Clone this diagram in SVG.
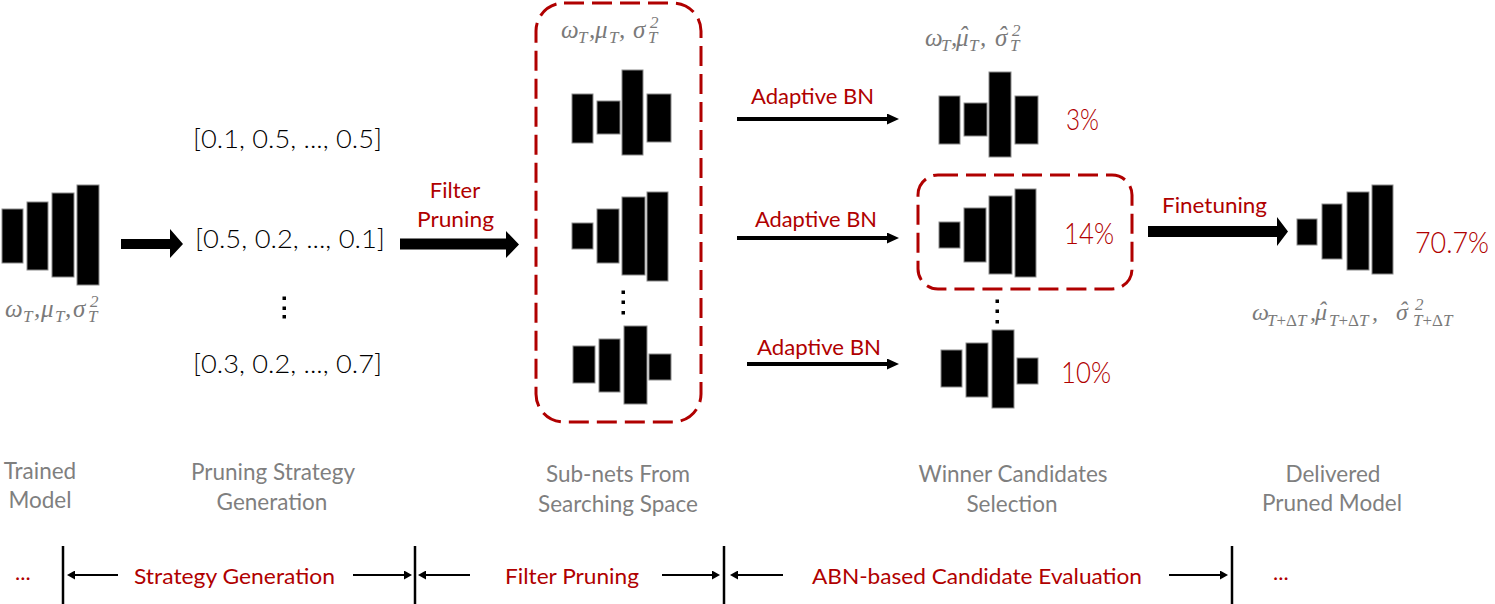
<svg xmlns="http://www.w3.org/2000/svg" width="1495" height="604" viewBox="0 0 1495 604">
<defs>
<style>
.bar{fill:#000;stroke:#8a8a8a;stroke-width:1}
.dot{fill:#000}
.red{fill:#b00000;font-family:Lato,"Liberation Sans",sans-serif}
.lbl{fill:#7f7f7f;font-family:Lato,"Liberation Sans",sans-serif;font-size:22.5px;text-anchor:middle}
.pct{fill:#b00000;font-family:Lato,"Liberation Sans",sans-serif;font-size:30px;font-weight:300}
.vec{fill:#000;font-family:Lato,"Liberation Sans",sans-serif;font-size:25px;font-weight:300}
.math{fill:#7a7a7a;font-family:"Liberation Serif","DejaVu Serif",serif;font-style:italic;font-size:25px}
.m4{font-size:24px}
.sub{font-size:17px}
.up{font-style:normal}
.dash{fill:none;stroke:#b00000;stroke-width:3;stroke-dasharray:20 8}
.blk{fill:#000}
.thin{stroke:#000;stroke-width:4;fill:none}
.tl{stroke:#000;stroke-width:2;fill:none}
.vl{stroke:#000;stroke-width:2.5}
</style>
<marker id="ah" markerUnits="userSpaceOnUse" markerWidth="12" markerHeight="11" refX="0" refY="5.5" orient="auto">
<path d="M0,0 L12,5.5 L0,11 z" fill="#000"/>
</marker>
<marker id="th" markerUnits="userSpaceOnUse" markerWidth="8" markerHeight="9" refX="0" refY="4.5" orient="auto">
<path d="M0,0 L8,4.5 L0,9 z" fill="#000"/>
</marker>
</defs>
<rect width="1495" height="604" fill="#fff"/>

<g id="trained-model">
<rect class="bar" x="2" y="209" width="21" height="54"/>
<rect class="bar" x="27" y="202" width="21" height="68"/>
<rect class="bar" x="52" y="193" width="22" height="84"/>
<rect class="bar" x="77" y="185" width="22" height="100"/>
<text class="math" y="317"><tspan x="5" y="317">ω</tspan><tspan class="sub" x="23" y="322">T</tspan><tspan x="34" y="317">,</tspan><tspan x="41" y="317">μ</tspan><tspan class="sub" x="55" y="322">T</tspan><tspan x="65" y="317">,</tspan><tspan x="73" y="317">σ</tspan><tspan class="sub" x="90" y="307">2</tspan><tspan class="sub" x="88" y="322">T</tspan></text>
<text class="lbl" x="40" y="479">Trained</text>
<text class="lbl" x="40" y="508">Model</text>
</g>

<g id="strategy-generation">
<text class="vec" x="193" y="148" textLength="189" lengthAdjust="spacingAndGlyphs">[0.1, 0.5, ..., 0.5]</text>
<text class="vec" x="195" y="248" textLength="190" lengthAdjust="spacingAndGlyphs">[0.5, 0.2, ..., 0.1]</text>
<rect class="dot" x="282.5" y="296.5" width="3.5" height="3.5"/>
<rect class="dot" x="282.5" y="306.5" width="3.5" height="3.5"/>
<rect class="dot" x="282.5" y="315" width="3.5" height="3.5"/>
<text class="vec" x="193" y="373" textLength="189" lengthAdjust="spacingAndGlyphs">[0.3, 0.2, ..., 0.7]</text>
<text class="lbl" x="273" y="480">Pruning Strategy</text>
<text class="lbl" x="272" y="510">Generation</text>
</g>

<g id="subnets">
<rect class="dash" x="536" y="3" width="165" height="419" rx="28"/>
<text class="math" y="38"><tspan x="561" y="38">ω</tspan><tspan class="sub" x="578" y="43">T</tspan><tspan x="589" y="38">,</tspan><tspan x="595" y="38">μ</tspan><tspan class="sub" x="609" y="43">T</tspan><tspan x="619" y="38">,</tspan><tspan x="633" y="38">σ</tspan><tspan class="sub" x="650" y="28">2</tspan><tspan class="sub" x="648" y="43">T</tspan></text>
<rect class="bar" x="572" y="94" width="21" height="49"/>
<rect class="bar" x="597" y="101" width="23" height="33"/>
<rect class="bar" x="622" y="70" width="21" height="85"/>
<rect class="bar" x="647" y="94" width="24" height="48"/>
<rect class="bar" x="572" y="223" width="21" height="26"/>
<rect class="bar" x="597" y="209" width="22" height="54"/>
<rect class="bar" x="622" y="197" width="23" height="78"/>
<rect class="bar" x="647" y="192" width="21" height="89"/>
<rect class="dot" x="621.5" y="290.5" width="3.5" height="3.5"/>
<rect class="dot" x="621.5" y="300.5" width="3.5" height="3.5"/>
<rect class="dot" x="621.5" y="311" width="3.5" height="3.5"/>
<rect class="bar" x="573" y="346" width="22" height="37"/>
<rect class="bar" x="599" y="339" width="21" height="53"/>
<rect class="bar" x="624" y="326" width="23" height="78"/>
<rect class="bar" x="649" y="354" width="22" height="26"/>
<text class="lbl" x="618" y="482">Sub-nets From</text>
<text class="lbl" x="618" y="512">Searching Space</text>
</g>

<g id="winner-candidates">
<text class="math" y="46"><tspan x="925" y="46">ω</tspan><tspan class="sub" x="941" y="51">T</tspan><tspan x="951" y="46">,</tspan><tspan x="956" y="46">μ</tspan><tspan x="959" y="44">ˆ</tspan><tspan class="sub" x="969" y="51">T</tspan><tspan x="980" y="46">,</tspan><tspan x="995" y="46">σ</tspan><tspan x="998" y="44">ˆ</tspan><tspan class="sub" x="1012" y="36">2</tspan><tspan class="sub" x="1010" y="51">T</tspan></text>
<rect class="bar" x="939" y="96" width="21" height="48"/>
<rect class="bar" x="964" y="103" width="23" height="33"/>
<rect class="bar" x="989" y="72" width="22" height="85"/>
<rect class="bar" x="1015" y="96" width="23" height="48"/>
<text class="pct" x="1066" y="130" textLength="33" lengthAdjust="spacingAndGlyphs">3%</text>
<rect class="dash" x="918" y="175" width="214" height="114" rx="20"/>
<rect class="bar" x="939" y="222" width="21" height="26"/>
<rect class="bar" x="964" y="208" width="22" height="54"/>
<rect class="bar" x="989" y="196" width="23" height="78"/>
<rect class="bar" x="1015" y="189" width="21" height="88"/>
<text class="pct" x="1064" y="244" textLength="50" lengthAdjust="spacingAndGlyphs">14%</text>
<rect class="dot" x="995.5" y="299.5" width="3.5" height="3.5"/>
<rect class="dot" x="995.5" y="309.5" width="3.5" height="3.5"/>
<rect class="dot" x="995.5" y="320" width="3.5" height="3.5"/>
<rect class="bar" x="941" y="350" width="21" height="37"/>
<rect class="bar" x="966" y="343" width="22" height="54"/>
<rect class="bar" x="992" y="330" width="22" height="78"/>
<rect class="bar" x="1017" y="358" width="21" height="26"/>
<text class="pct" x="1061" y="383" textLength="50" lengthAdjust="spacingAndGlyphs">10%</text>
<text class="lbl" x="1013" y="482">Winner Candidates</text>
<text class="lbl" x="1012" y="512">Selection</text>
</g>

<g id="delivered-model">
<rect class="bar" x="1297" y="219" width="20" height="26"/>
<rect class="bar" x="1322" y="204" width="20" height="55"/>
<rect class="bar" x="1347" y="192" width="22" height="78"/>
<rect class="bar" x="1372" y="185" width="21" height="89"/>
<text class="pct" x="1415" y="253" font-size="28" textLength="74" lengthAdjust="spacingAndGlyphs">70.7%</text>
<text class="math m4" y="320"><tspan x="1252" y="320">ω</tspan><tspan class="sub" x="1267" y="326">T<tspan class="up">+Δ</tspan>T</tspan><tspan x="1310" y="320">,</tspan><tspan x="1315" y="320">μ</tspan><tspan x="1318" y="318">ˆ</tspan><tspan class="sub" x="1329" y="326">T<tspan class="up">+Δ</tspan>T</tspan><tspan x="1372" y="320">,</tspan><tspan x="1396" y="320">σ</tspan><tspan x="1399" y="318">ˆ</tspan><tspan class="sub" x="1415" y="310">2</tspan><tspan class="sub" x="1413" y="326">T<tspan class="up">+Δ</tspan>T</tspan></text>
<text class="lbl" x="1333" y="482">Delivered</text>
<text class="lbl" x="1332" y="511">Pruned Model</text>
</g>

<g id="connectors">
<polygon class="blk" points="121,239 170,239 170,229 183,244 170,258 170,249 121,249"/>
<polygon class="blk" points="400,238.5 506,238.5 506,231 519,244.5 506,258 506,249.5 400,249.5"/>
<text class="red" font-size="22" x="455" y="198" text-anchor="middle">Filter</text>
<text class="red" font-size="22" x="417" y="227" textLength="77" lengthAdjust="spacingAndGlyphs">Pruning</text>
<line class="thin" x1="737" y1="119" x2="887" y2="119" marker-end="url(#ah)"/>
<text class="red" font-size="22" x="751" y="104" textLength="123" lengthAdjust="spacingAndGlyphs">Adaptive BN</text>
<line class="thin" x1="737" y1="238" x2="887" y2="238" marker-end="url(#ah)"/>
<text class="red" font-size="22" x="755" y="227" textLength="122" lengthAdjust="spacingAndGlyphs">Adaptive BN</text>
<line class="thin" x1="747" y1="364" x2="887" y2="364" marker-end="url(#ah)"/>
<text class="red" font-size="22" x="757" y="355" textLength="124" lengthAdjust="spacingAndGlyphs">Adaptive BN</text>
<polygon class="blk" points="1148,226 1277,226 1277,217 1288,231.5 1277,246 1277,237 1148,237"/>
<text class="red" font-size="22" x="1162" y="213" textLength="105" lengthAdjust="spacingAndGlyphs">Finetuning</text>
</g>

<g id="timeline">
<text class="red" font-size="22" x="15" y="580">...</text>
<line class="vl" x1="63" y1="546" x2="63" y2="604"/>
<line class="tl" x1="118" y1="575" x2="75" y2="575" marker-end="url(#th)"/>
<text class="red" font-size="22" x="134" y="584" textLength="201" lengthAdjust="spacingAndGlyphs">Strategy Generation</text>
<line class="tl" x1="353" y1="575" x2="404" y2="575" marker-end="url(#th)"/>
<line class="vl" x1="415" y1="546" x2="415" y2="604"/>
<line class="tl" x1="470" y1="575" x2="426" y2="575" marker-end="url(#th)"/>
<text class="red" font-size="22" x="505" y="584" textLength="134" lengthAdjust="spacingAndGlyphs">Filter Pruning</text>
<line class="tl" x1="662" y1="575" x2="712" y2="575" marker-end="url(#th)"/>
<line class="vl" x1="724" y1="546" x2="724" y2="604"/>
<line class="tl" x1="783" y1="575" x2="738" y2="575" marker-end="url(#th)"/>
<text class="red" font-size="22" x="812" y="584" textLength="330" lengthAdjust="spacingAndGlyphs">ABN-based Candidate Evaluation</text>
<line class="tl" x1="1169" y1="575" x2="1220" y2="575" marker-end="url(#th)"/>
<line class="vl" x1="1232" y1="546" x2="1232" y2="604"/>
<text class="red" font-size="22" x="1273" y="580">...</text>
</g>
</svg>
